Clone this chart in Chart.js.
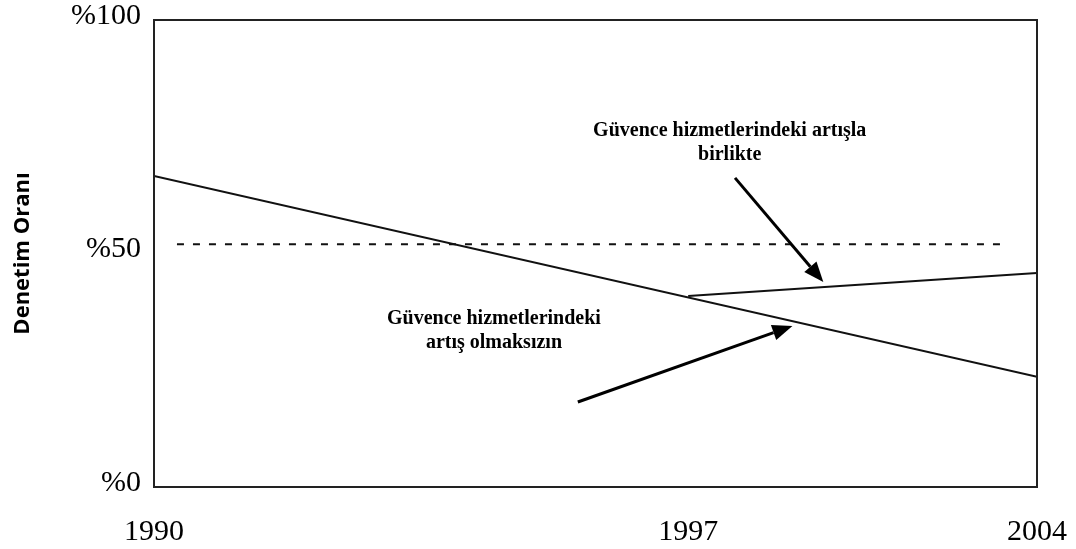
<!DOCTYPE html>
<html>
<head>
<meta charset="utf-8">
<script src="https://cdn.jsdelivr.net/npm/chart.js@4.4.1/dist/chart.umd.min.js"></script>
<style>
  html, body { margin: 0; padding: 0; background: #fff; }
  #wrap { width: 1076px; height: 549px; }
</style>
</head>
<body>
<div id="wrap"><canvas id="chart"></canvas></div>
<script>
// x is the share of the 1990-2004 period (0..100), as laid out in the original figure
const xTickValues = [0, 60.5, 100];
const xTickLabels = ["1990", "1997", "2004"];
const yTickValues = [0, 50, 100];
const yTickLabels = ["%0", "%50", "%100"];

const withoutX = [0, 100];
const withoutY = [66.6, 23.6];
const withX = [60.5, 100];
const withY = [40.9, 45.8];
const refX = [2.6, 96.5];
const refY = [52, 52];

const noteWithLines = ["Güvence hizmetlerindeki artışla", "birlikte"];
const noteWithAt = [65.2, 73.7];
const noteWithArrow = [65.8, 66.2, 75.8, 43.9];
const noteWithoutLines = ["Güvence hizmetlerindeki", "artış olmaksızın"];
const noteWithoutAt = [38.5, 33.4];
const noteWithoutArrow = [48.0, 18.2, 72.3, 34.5];

function points(xs, ys) {
    return xs.map((x, i) => ({ x: x, y: ys[i] }));
}

const serif = "'Liberation Serif', 'DejaVu Serif', serif";

const framePlugin = {
    id: "frame",
    afterDatasetsDraw(chart) {
        const ctx = chart.ctx;
        const a = chart.chartArea;
        const xs = chart.scales.x;
        const ys = chart.scales.y;
        ctx.save();
        ctx.strokeStyle = "#222";
        ctx.lineWidth = 2;
        ctx.strokeRect(a.left, a.top, a.right - a.left, a.bottom - a.top);

        ctx.fillStyle = "#000";
        ctx.font = "bold 20px " + serif;
        ctx.textAlign = "center";
        ctx.textBaseline = "middle";
        const drawNote = (lines, at) => {
            const cx = xs.getPixelForValue(at[0]);
            const cy = ys.getPixelForValue(at[1]);
            const step = 24;
            const y0 = cy - (lines.length - 1) * step / 2;
            lines.forEach((t, i) => ctx.fillText(t, cx, y0 + i * step));
        };
        drawNote(noteWithLines, noteWithAt);
        drawNote(noteWithoutLines, noteWithoutAt);

        const drawArrow = (arr) => {
            const x1 = xs.getPixelForValue(arr[0]), y1 = ys.getPixelForValue(arr[1]);
            const x2 = xs.getPixelForValue(arr[2]), y2 = ys.getPixelForValue(arr[3]);
            const ang = Math.atan2(y2 - y1, x2 - x1);
            const head = 20, half = 8;
            const bx = x2 - head * Math.cos(ang), by = y2 - head * Math.sin(ang);
            ctx.strokeStyle = "#000";
            ctx.lineWidth = 3;
            ctx.beginPath();
            ctx.moveTo(x1, y1);
            ctx.lineTo(bx, by);
            ctx.stroke();
            ctx.beginPath();
            ctx.moveTo(x2, y2);
            ctx.lineTo(bx + half * Math.sin(ang), by - half * Math.cos(ang));
            ctx.lineTo(bx - half * Math.sin(ang), by + half * Math.cos(ang));
            ctx.closePath();
            ctx.fill();
        };
        drawArrow(noteWithArrow);
        drawArrow(noteWithoutArrow);
        ctx.restore();
    }
};

const ctx = document.getElementById("chart").getContext("2d");
const chart = new Chart(ctx, {
    type: "line",
    data: {
        datasets: [
            {
                label: "Güvence hizmetlerindeki artış olmaksızın",
                data: points(withoutX, withoutY),
                borderColor: "#111",
                borderWidth: 2,
                pointRadius: 0
            },
            {
                label: "Güvence hizmetlerindeki artışla birlikte",
                data: points(withX, withY),
                borderColor: "#111",
                borderWidth: 2,
                pointRadius: 0
            },
            {
                label: "Referans",
                data: points(refX, refY),
                borderColor: "#111",
                borderWidth: 2,
                borderDash: [7, 9],
                pointRadius: 0
            }
        ]
    },
    options: {
        responsive: true,
        maintainAspectRatio: false,
        animation: false,
        layout: { padding: { top: 20, right: 39, left: 0, bottom: 0 } },
        plugins: {
            legend: { display: false },
            tooltip: { enabled: false }
        },
        scales: {
            x: {
                type: "linear",
                min: 0,
                max: 100,
                grid: { display: false, drawTicks: false },
                border: { display: false },
                afterBuildTicks: (s) => { s.ticks = xTickValues.map(v => ({ value: v })); },
                afterFit: (s) => { s.height = 62; s.paddingLeft = 0; s.paddingRight = 0; },
                ticks: {
                    padding: 27,
                    color: "#000",
                    font: { family: serif, size: 30 },
                    maxRotation: 0,
                    autoSkip: false,
                    callback: (v) => xTickLabels[xTickValues.indexOf(v)]
                }
            },
            y: {
                min: 0,
                max: 100,
                grid: { display: false, drawTicks: false },
                border: { display: false },
                afterBuildTicks: (s) => { s.ticks = yTickValues.map(v => ({ value: v })); },
                afterFit: (s) => { s.width = 154; s.paddingTop = 0; s.paddingBottom = 0; },
                title: {
                    display: true,
                    text: "Denetim Oranı",
                    color: "#000",
                    font: { family: "'Open Sans', sans-serif", size: 22, weight: "bold" },
                    padding: { top: 10, bottom: 0 }
                },
                ticks: {
                    padding: 13,
                    labelOffset: -4,
                    color: "#000",
                    font: { family: serif, size: 30 },
                    callback: (v) => yTickLabels[yTickValues.indexOf(v)]
                }
            }
        }
    },
    plugins: [framePlugin]
});
</script>
</body>
</html>
